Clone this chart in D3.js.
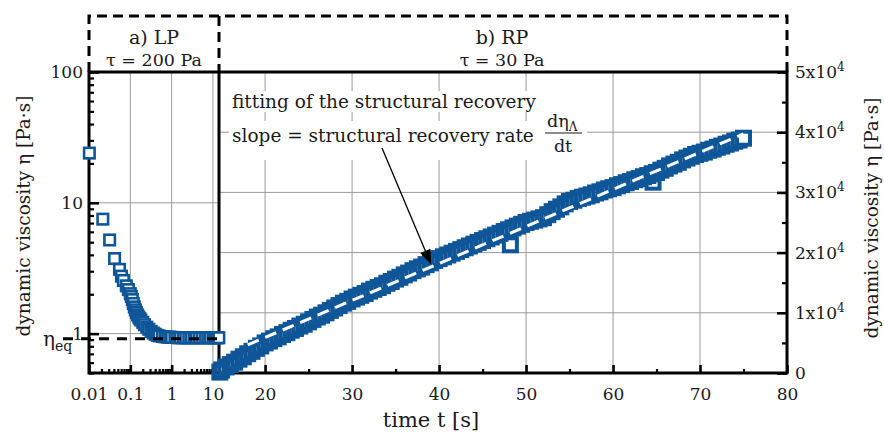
<!DOCTYPE html>
<html><head><meta charset="utf-8">
<script src="https://cdn.jsdelivr.net/npm/d3@7"></script>
<style>
body{margin:0;background:#fff;}
</style></head><body>
<svg id="c" width="884" height="434"></svg>
<script>
// ---------- DATA ----------
// a) LP : time [s] (log axis) and dynamic viscosity [Pa·s] (log axis)
const lpTime = [0.0102,0.0216,0.0316,0.0416,0.0547,0.061,0.068,0.08,0.09,0.1,0.106,0.112,0.118,0.125,0.132,0.14,0.15,0.16,0.17,0.18,0.2,0.22,0.25,0.28,0.32,0.36,0.4,0.45,0.5,0.6,0.7,0.8,0.9,1.0,1.2,1.4,1.6,1.9,2.2,2.6,3.0,3.5,4.0,4.7,5.5,6.5,7.5,8.5,10,11,12,13,13.9];
const lpVisc = [24,7.5,5.2,3.75,3.1,2.75,2.55,2.32,2.17,2.02,1.92,1.82,1.7,1.6,1.52,1.45,1.39,1.34,1.3,1.27,1.22,1.17,1.12,1.08,1.04,1.01,0.99,0.97,0.96,0.95,0.945,0.94,0.94,0.935,0.935,0.93,0.93,0.93,0.93,0.93,0.93,0.93,0.93,0.93,0.93,0.93,0.93,0.93,0.93,0.93,0.93,0.93,0.93];
const etaEq = 0.93;

// b) RP : time [s] (linear) and dynamic viscosity [Pa·s] (linear)
const rpTime = [14.8,15,15.5,16,16.5,17,17.5,18,18.5,19,19.5,20,20.5,21,21.5,22,22.5,23,23.5,24,24.5,25,25.5,26,26.5,27,27.5,28,28.5,29,29.5,30,30.5,31,31.5,32,32.5,33,33.5,34,34.5,35,35.5,36,36.5,37,37.5,38,38.5,39,39.5,40,40.5,41,41.5,42,42.5,43,43.5,44,44.5,45,45.5,46,46.5,47,47.5,48,48.2,48.5,49,49.5,50,50.5,51,51.5,52,52.5,53,53.5,54,54.5,55,55.5,56,56.5,57,57.5,58,58.5,59,59.5,60,60.5,61,61.5,62,62.5,63,63.5,64,64.5,64.6,65,65.5,66,66.5,67,67.5,68,68.5,69,69.5,70,70.5,71,71.5,72,72.5,73,73.5,74,74.5,75];
const rpVisc = [150,500,1000,1400,1800,2300,2700,3200,3600,4100,4500,5000,5300,5700,6000,6400,6700,7100,7400,7800,8100,8500,8900,9300,9600,10000,10400,10800,11200,11600,11900,12300,12600,12900,13200,13600,13900,14200,14500,14900,15200,15600,15900,16300,16600,17000,17300,17600,18000,18300,18700,19000,19300,19600,19900,20200,20500,20800,21100,21400,21700,22000,22300,22600,22900,23200,23500,23800,21300,24100,24400,24700,25000,25200,25400,25600,25800,26300,26800,27200,27600,28100,28500,28700,29000,29200,29400,29600,29900,30100,30400,30600,30800,31100,31300,31600,31800,32100,32300,32600,32800,33100,31700,33300,33700,34000,34400,34700,35000,35400,35700,36000,36300,36500,36700,37000,37200,37500,37700,38000,38200,38500,38700,39000];

// linear fit of the structural recovery (Pa·s = slope*t + intercept)
const fitSlope = 615;
const fitIntercept = -6400;
const fitTimes = [18, 75];
const arrowTime = 39.1;

// ticks / labels
const lpXTicks = [0.01, 0.1, 1, 10];
const lpXTickLabels = ["0.01", "0.1", "1", "10"];
const lpYTicks = [1, 10, 100];
const lpYTickLabels = ["1", "10", "100"];
const rpXTicks = [20, 30, 40, 50, 60, 70, 80];
const rpXTickLabels = ["20", "30", "40", "50", "60", "70", "80"];
const rpYTicks = [0, 10000, 20000, 30000, 40000, 50000];
const rpYTickLabels = [["0",""],["1x10","4"],["2x10","4"],["3x10","4"],["4x10","4"],["5x10","4"]];
const panelTitles = [["a) LP", "τ = 200 Pa"], ["b) RP", "τ = 30 Pa"]];
const xTitle = "time t [s]";
const yTitle = "dynamic viscosity η [Pa·s]";
const annotLines = ["fitting of the structural recovery", "slope = structural recovery rate"];

// ---------- LAYOUT ----------
const FONT = "DejaVu Serif";
const INK = "#1a1a1a";
const L = 89, D = 219, R = 787, T = 72, B = 373, H = 16;
const blue = "#0f5699";
const svg = d3.select("#c");
const xL = d3.scaleLog().domain([0.01, 14]).range([L, D]);
const yL = d3.scaleLog().domain([0.5, 100]).range([B, T]);
const xR = d3.scaleLinear().domain([14.7, 80]).range([D, R]);
const yR = d3.scaleLinear().domain([0, 50000]).range([B, T]);
const isDecade = d => Math.abs(Math.log10(d) - Math.round(Math.log10(d))) < 1e-6;
const txt = (sel) => sel.append("text").attr("font-family", FONT).attr("fill", INK);

// grid
const grid = svg.append("g").attr("stroke", "#9a9a9a").attr("stroke-width", 1);
lpXTicks.filter(d => d > 0.01).forEach(d => grid.append("line").attr("x1", xL(d)).attr("x2", xL(d)).attr("y1", T).attr("y2", B));
lpYTicks.filter(d => d < 100).forEach(d => grid.append("line").attr("x1", L).attr("x2", D).attr("y1", yL(d)).attr("y2", yL(d)));
rpXTicks.filter(d => d < 80).forEach(d => grid.append("line").attr("x1", xR(d)).attr("x2", xR(d)).attr("y1", T).attr("y2", B));
rpYTicks.filter(d => d > 0 && d < 50000).forEach(d => grid.append("line").attr("x1", D).attr("x2", R).attr("y1", yR(d)).attr("y2", yR(d)));

// annotation (white background hides grid)
const annot = svg.append("g");
const ann1 = txt(annot).attr("x", 232).attr("y", 108).attr("font-size", 18.5).text(annotLines[0]);
const ann2 = txt(annot).attr("x", 232).attr("y", 142).attr("font-size", 18.5).text(annotLines[1]);
const fr = annot.append("g");
const num = txt(fr).attr("x", 547).attr("y", 127).attr("font-size", 17.5);
num.append("tspan").text("dη");
num.append("tspan").attr("font-size", 12).attr("dy", 4).text("Λ");
fr.append("line").attr("x1", 545).attr("x2", 582).attr("y1", 133).attr("y2", 133).attr("stroke", INK).attr("stroke-width", 1.2);
txt(fr).attr("x", 563).attr("y", 152).attr("font-size", 17.5).attr("text-anchor", "middle").text("dt");
const b1 = ann1.node().getBBox(), b2 = ann2.node().getBBox(), bf = fr.node().getBBox();
annot.insert("rect", ":first-child").attr("x", b1.x - 3).attr("y", b1.y).attr("width", b1.width + 6).attr("height", b1.height).attr("fill", "#fff");
annot.insert("rect", ":first-child").attr("x", b2.x - 3).attr("y", b2.y - 4).attr("width", bf.x + bf.width + 8 - b2.x).attr("height", Math.max(b2.height, bf.y + bf.height - b2.y) + 8).attr("fill", "#fff");

// axes (ticks inward)
function styleAxis(g, w) {
  g.attr("font-family", FONT).attr("font-size", 17);
  g.select(".domain").remove();
  g.selectAll(".tick line").attr("stroke", "#000").attr("stroke-width", w);
  g.selectAll(".tick text").attr("font-family", FONT).attr("font-size", 17).attr("fill", INK);
}
const lpYMinor = yL.ticks().filter(d => !isDecade(d));
svg.append("g").attr("transform", `translate(${L},0)`)
  .call(d3.axisLeft(yL).tickValues(lpYMinor).tickSizeInner(-5).tickSizeOuter(0).tickFormat(""))
  .call(g => styleAxis(g, 2.2));
svg.append("g").attr("transform", `translate(${L},0)`)
  .call(d3.axisLeft(yL).tickValues(lpYTicks).tickSizeInner(-10).tickSizeOuter(0).tickPadding(6).tickFormat((d, i) => lpYTickLabels[i]))
  .call(g => styleAxis(g, 2.6));
const lpXMinor = xL.ticks().filter(d => !isDecade(d));
svg.append("g").attr("transform", `translate(0,${B})`)
  .call(d3.axisBottom(xL).tickValues(lpXMinor).tickSizeInner(-4).tickSizeOuter(0).tickFormat(""))
  .call(g => styleAxis(g, 2.2));
svg.append("g").attr("transform", `translate(0,${B})`)
  .call(d3.axisBottom(xL).tickValues(lpXTicks).tickSizeInner(-8).tickSizeOuter(0).tickPadding(15).tickFormat((d, i) => lpXTickLabels[i]))
  .call(g => styleAxis(g, 2.6));
const rpXMinor = xR.ticks(13).filter(d => !rpXTicks.includes(d) && d > 15);
svg.append("g").attr("transform", `translate(0,${B})`)
  .call(d3.axisBottom(xR).tickValues(rpXMinor).tickSizeInner(-4).tickSizeOuter(0).tickFormat(""))
  .call(g => styleAxis(g, 2.2));
svg.append("g").attr("transform", `translate(0,${B})`)
  .call(d3.axisBottom(xR).tickValues(rpXTicks).tickSizeInner(-8).tickSizeOuter(0).tickPadding(15).tickFormat((d, i) => rpXTickLabels[i]))
  .call(g => styleAxis(g, 2.6));
const rpYMinor = yR.ticks(10).filter(d => !rpYTicks.includes(d));
svg.append("g").attr("transform", `translate(${R},0)`)
  .call(d3.axisRight(yR).tickValues(rpYMinor).tickSizeInner(-5).tickSizeOuter(0).tickFormat(""))
  .call(g => styleAxis(g, 2.2));
const rAx = svg.append("g").attr("transform", `translate(${R},0)`)
  .call(d3.axisRight(yR).tickValues(rpYTicks).tickSizeInner(-10).tickSizeOuter(0).tickPadding(8).tickFormat(""))
  .call(g => styleAxis(g, 2.6));
rAx.selectAll(".tick text").each(function (d, i) {
  const t = d3.select(this);
  t.append("tspan").text(rpYTickLabels[i][0]);
  if (rpYTickLabels[i][1]) t.append("tspan").attr("font-size", 12).attr("dy", -7).text(rpYTickLabels[i][1]);
});

// frame
const frame = svg.append("g").attr("stroke", "#000").attr("stroke-width", 3).attr("fill", "none");
frame.append("rect").attr("x", L).attr("y", T).attr("width", R - L).attr("height", B - T);
frame.append("line").attr("x1", D).attr("x2", D).attr("y1", T).attr("y2", B);

// header dashed box + panel titles
const hdr = svg.append("g").attr("stroke", "#000").attr("stroke-width", 3).attr("fill", "none").attr("stroke-dasharray", "10,6");
hdr.append("path").attr("d", `M${L},${T} V${H} H${R} V${T}`);
hdr.append("path").attr("d", `M${D},${H} V${T}`);
[[(L + D) / 2, 0], [502, 1]].forEach(([cx, i]) => {
  txt(svg).attr("x", cx).attr("y", 44).attr("font-size", 19).attr("text-anchor", "middle").text(panelTitles[i][0]);
  txt(svg).attr("x", cx).attr("y", 66).attr("font-size", 17.5).attr("text-anchor", "middle").text(panelTitles[i][1]);
});

// data LP
const sq = 10.5;
svg.append("g").selectAll("rect").data(lpTime.map((t, i) => [t, lpVisc[i]])).join("rect")
  .attr("x", d => xL(d[0]) - sq / 2).attr("y", d => yL(d[1]) - sq / 2)
  .attr("width", sq).attr("height", sq)
  .attr("fill", "#fff").attr("stroke", blue).attr("stroke-width", 2.6);

// data RP
const sq2 = 13;
const tMax = d3.max(rpTime);
svg.append("g").selectAll("rect").data(rpTime.map((t, i) => [t, rpVisc[i]])).join("rect")
  .attr("x", d => xR(d[0]) - sq2 / 2).attr("y", d => yR(d[1]) - sq2 / 2)
  .attr("width", sq2).attr("height", sq2)
  .attr("fill", d => d[0] === tMax ? "#fff" : "none").attr("stroke", blue).attr("stroke-width", 4);

// fit line
svg.append("line")
  .attr("x1", xR(fitTimes[0])).attr("y1", yR(fitSlope * fitTimes[0] + fitIntercept))
  .attr("x2", xR(fitTimes[1])).attr("y2", yR(fitSlope * fitTimes[1] + fitIntercept))
  .attr("stroke", "#fff").attr("stroke-width", 3).attr("stroke-dasharray", "12,7");

// eta_eq
svg.append("line").attr("x1", 63).attr("x2", D).attr("y1", yL(etaEq) + 1).attr("y2", yL(etaEq) + 1)
  .attr("stroke", "#000").attr("stroke-width", 3).attr("stroke-dasharray", "10,8");
const eq = txt(svg).attr("x", 43).attr("y", 346).attr("font-size", 20);
eq.append("tspan").text("η");
eq.append("tspan").attr("font-size", 14).attr("dy", 5).text("eq");

// arrow
const ax2 = xR(arrowTime), ay2 = yR(fitSlope * arrowTime + fitIntercept) - 2;
const ax1 = 382, ay1 = 148;
const ang = Math.atan2(ay2 - ay1, ax2 - ax1);
const hl = 15, hw = 5.5;
const bx = ax2 - hl * Math.cos(ang), by = ay2 - hl * Math.sin(ang);
svg.append("line").attr("x1", ax1).attr("y1", ay1).attr("x2", bx).attr("y2", by).attr("stroke", "#000").attr("stroke-width", 1.3);
svg.append("path").attr("d", `M${ax2},${ay2} L${bx + hw * Math.sin(ang)},${by - hw * Math.cos(ang)} L${bx - hw * Math.sin(ang)},${by + hw * Math.cos(ang)} Z`).attr("fill", "#000");

// axis titles
txt(svg).attr("x", (L + R) / 2 - 7).attr("y", 427).attr("font-size", 21).attr("text-anchor", "middle").text(xTitle);
txt(svg).attr("transform", "translate(30,216) rotate(-90)").attr("font-size", 18.5).attr("text-anchor", "middle").text(yTitle);
txt(svg).attr("transform", "translate(878,218) rotate(-90)").attr("font-size", 18.5).attr("text-anchor", "middle").text(yTitle);
</script>
</body></html>
